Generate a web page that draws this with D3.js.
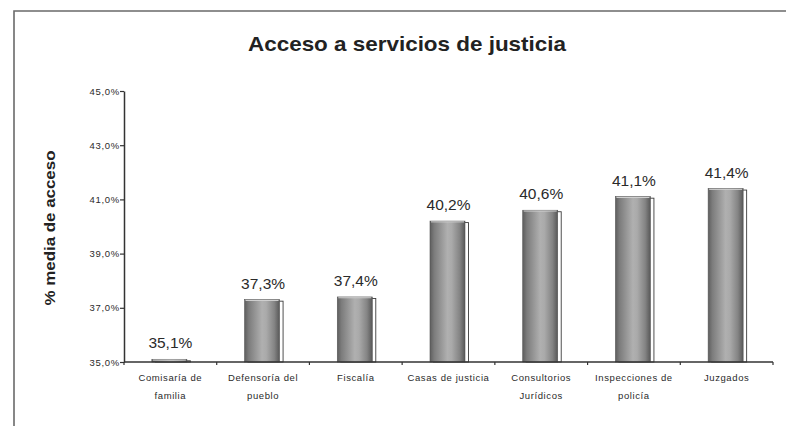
<!DOCTYPE html>
<html>
<head>
<meta charset="utf-8">
<script src="https://cdn.jsdelivr.net/npm/d3@7/dist/d3.min.js"></script>
<style>
  html, body { margin: 0; padding: 0; background: #fff; }
  svg { display: block; font-family: "Liberation Sans", Arial, sans-serif; }
</style>
</head>
<body>
<svg id="chart" width="786" height="426"></svg>
<script>
// Access to justice services: mean access percentage per service
const categories = [
  ["Comisaría de", "familia"],
  ["Defensoría del", "pueblo"],
  ["Fiscalía"],
  ["Casas de justicia"],
  ["Consultorios", "Jurídicos"],
  ["Inspecciones de", "policía"],
  ["Juzgados"]
];
const values = [35.1, 37.3, 37.4, 40.2, 40.6, 41.1, 41.4];
const yTicks = [35, 37, 39, 41, 43, 45];

const svg = d3.select("#chart");
const fmt = v => v.toFixed(1).replace(".", ",") + "%";

// outer frame (continues past the right and bottom edges)
svg.append("path")
  .attr("d", "M14,430 L14,11 L790,11")
  .attr("fill", "none")
  .attr("stroke", "#6a6a6a")
  .attr("stroke-width", 1.6);

// title
svg.append("text")
  .attr("x", 407).attr("y", 51)
  .attr("text-anchor", "middle")
  .attr("font-size", 21).attr("font-weight", "bold")
  .attr("textLength", 318).attr("lengthAdjust", "spacingAndGlyphs")
  .attr("fill", "#222")
  .text("Acceso a servicios de justicia");

const plotLeft = 124, plotRight = 773, plotTop = 91, plotBottom = 362;

const x = d3.scaleBand()
  .domain(categories.map((d, i) => i))
  .range([plotLeft, plotRight])
  .paddingInner(0).paddingOuter(0);

const y = d3.scaleLinear().domain([35, 45]).range([plotBottom, plotTop]);

// bar shading
const defs = svg.append("defs");
const grad = defs.append("linearGradient").attr("id", "barGrad")
  .attr("x1", "0%").attr("x2", "100%").attr("y1", "0%").attr("y2", "0%");
[["0%", "#5e5e5e"], ["12%", "#7c7c7c"], ["50%", "#b0b0b0"], ["62%", "#aaaaaa"], ["85%", "#848484"], ["100%", "#585858"]]
  .forEach(([o, c]) => grad.append("stop").attr("offset", o).attr("stop-color", c));

const barW = 35, depth = 3.5;
const bars = svg.append("g");
values.forEach((v, i) => {
  const cx = x(i) + x.bandwidth() / 2;
  const bx = cx - barW / 2 - 1;
  const by = y(v);
  const h = y(35) - by;
  // back face
  bars.append("rect")
    .attr("x", bx + depth).attr("y", by + 1.5)
    .attr("width", barW).attr("height", Math.max(0, h - 1.5))
    .attr("fill", "#fff").attr("stroke", "#3c3c3c").attr("stroke-width", 0.9);
  // front face
  bars.append("rect")
    .attr("x", bx).attr("y", by)
    .attr("width", barW).attr("height", h)
    .attr("fill", "url(#barGrad)").attr("stroke", "#555").attr("stroke-width", 0.6);
  // top highlight
  bars.append("line")
    .attr("x1", bx + 1).attr("x2", bx + barW - 1)
    .attr("y1", by + 0.8).attr("y2", by + 0.8)
    .attr("stroke", "#d0d0d0").attr("stroke-width", 1);
  // value label
  bars.append("text")
    .attr("x", cx).attr("y", by - 11)
    .attr("text-anchor", "middle")
    .attr("font-size", 15.5).attr("fill", "#2a2a2a")
    .text(fmt(v));
});

// y axis
const yAxis = svg.append("g")
  .attr("transform", `translate(${plotLeft},0)`)
  .call(d3.axisLeft(y).tickValues(yTicks).tickSize(4).tickSizeOuter(0).tickFormat(fmt));
yAxis.select(".domain").attr("stroke", "#333").attr("stroke-width", 1.5);
yAxis.selectAll(".tick line").attr("stroke", "#333").attr("stroke-width", 1.2);
yAxis.selectAll(".tick text")
  .attr("font-size", 9.5).attr("letter-spacing", 0.7).attr("fill", "#2a2a2a")
  .attr("font-family", "'Liberation Sans', Arial, sans-serif")
  .attr("x", -4);

// x axis
const xAxis = svg.append("g").attr("transform", `translate(0,${plotBottom})`);
xAxis.append("line")
  .attr("x1", plotLeft).attr("x2", plotRight)
  .attr("stroke", "#333").attr("stroke-width", 1.5);
d3.range(categories.length + 1).forEach(i => {
  const tx = plotLeft + i * x.step();
  xAxis.append("line")
    .attr("x1", tx).attr("x2", tx).attr("y1", 0).attr("y2", 3)
    .attr("stroke", "#333").attr("stroke-width", 1.2);
});
categories.forEach((lines, i) => {
  const t = xAxis.append("text")
    .attr("text-anchor", "middle")
    .attr("font-size", 9.5).attr("letter-spacing", 0.6).attr("fill", "#2a2a2a");
  lines.forEach((ln, j) => {
    t.append("tspan")
      .attr("x", x(i) + x.bandwidth() / 2)
      .attr("y", 19 + j * 18)
      .text(ln);
  });
});

// y axis title
svg.append("text")
  .attr("transform", "translate(55,228) rotate(-90)")
  .attr("text-anchor", "middle")
  .attr("font-size", 15).attr("font-weight", "bold")
  .attr("textLength", 155).attr("lengthAdjust", "spacingAndGlyphs")
  .attr("fill", "#222")
  .text("% media de acceso");
</script>
</body>
</html>
